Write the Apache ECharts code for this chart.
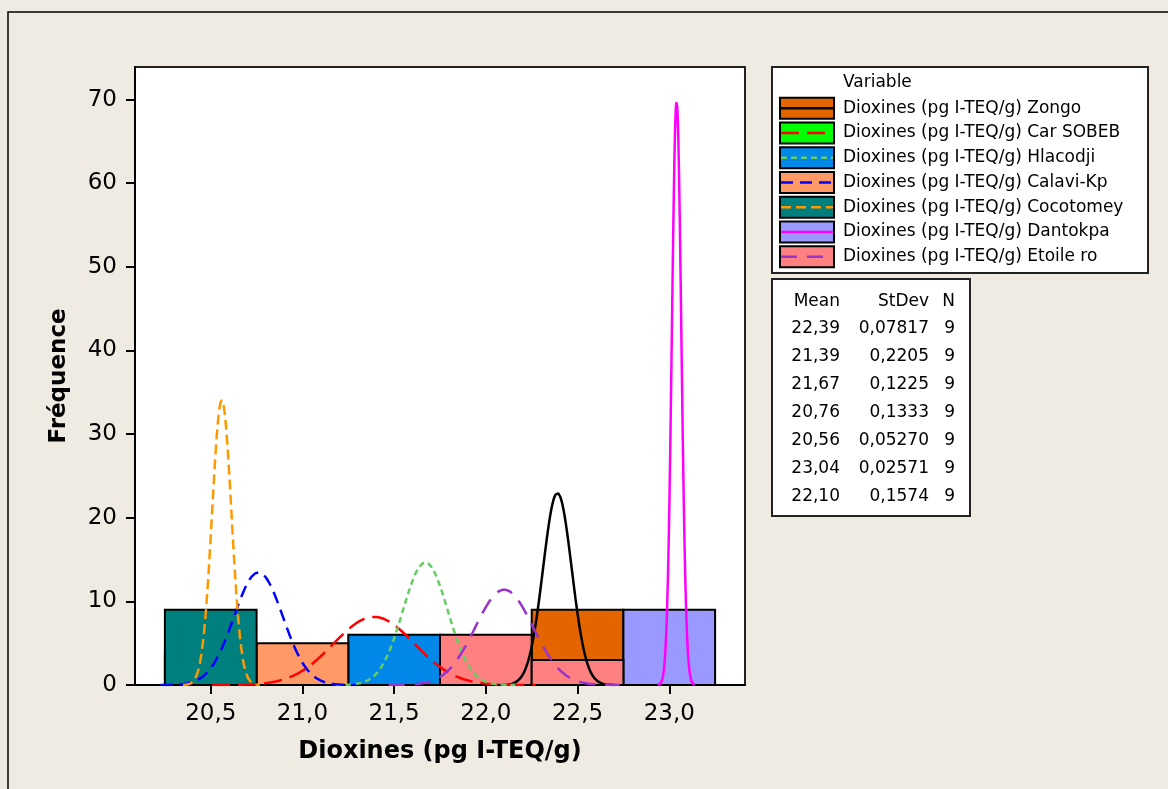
<!DOCTYPE html>
<html>
<head>
<meta charset="utf-8">
<style>
  html, body { margin: 0; padding: 0; background: #EFEBE2; }
  #chart { width: 1168px; height: 789px; }
</style>
<script src="https://cdn.jsdelivr.net/npm/echarts@6/dist/echarts.min.js"></script>
</head>
<body>
<div id="chart"></div>
<script>
// variables, in legend order
var names = ['Zongo', 'Car SOBEB', 'Hlacodji', 'Calavi-Kp', 'Cocotomey', 'Dantokpa', 'Etoile ro'];
var means = [22.39, 21.39, 21.67, 20.76, 20.56, 23.04, 22.10];
var stdevs = [0.07817, 0.2205, 0.1225, 0.1333, 0.05270, 0.02571, 0.1574];
var counts = [9, 9, 9, 9, 9, 9, 9];

// histogram bins (midpoints, width 0.5) and counts per variable
var binMids = [20.5, 21.0, 21.5, 22.0, 22.5, 23.0];
var binZongo = [0, 0, 0, 0, 9, 0];
var binCarSobeb = [0, 4, 5, 0, 0, 0];
var binHlacodji = [0, 0, 6, 3, 0, 0];
var binCalavi = [4, 5, 0, 0, 0, 0];
var binCocotomey = [9, 0, 0, 0, 0, 0];
var binDantokpa = [0, 0, 0, 0, 0, 9];
var binEtoile = [0, 0, 0, 6, 3, 0];
var binWidth = 0.5;

// tick labels
var xTicks = [20.5, 21.0, 21.5, 22.0, 22.5, 23.0];
var yTicks = [0, 10, 20, 30, 40, 50, 60, 70];

var binCounts = [binZongo, binCarSobeb, binHlacodji, binCalavi, binCocotomey, binDantokpa, binEtoile];
var fillColors = ['#E46400', '#00FF00', '#0088E8', '#FF9966', '#007F7F', '#9999FF', '#FF8080'];
var lineColors = ['#000000', '#FF0000', '#66CC66', '#0000FF', '#FF9900', '#FF00FF', '#9933CC'];
var lineDashes = [null, [18, 8], [6, 4], [12, 7], [10, 5], null, [16, 10]];

var FONT = 'DejaVu Sans';
var chart = echarts.init(document.getElementById('chart'));

function comma(v, d) { return v.toFixed(d).replace('.', ','); }

var series = [];
// histogram bars
names.forEach(function (n, i) {
    series.push({
        name: n,
        type: 'custom',
        z: 2,
        data: binMids.map(function (m, k) { return [m, binCounts[i][k]]; }),
        renderItem: function (params, api) {
            var h = api.value(1);
            if (!h) return;
            var p0 = api.coord([api.value(0) - binWidth / 2, h]);
            var p1 = api.coord([api.value(0) + binWidth / 2, 0]);
            return {
                type: 'rect',
                shape: { x: p0[0], y: p0[1], width: p1[0] - p0[0], height: p1[1] - p0[1] },
                style: { fill: fillColors[i], stroke: '#000', lineWidth: 2 }
            };
        }
    });
});
// fitted normal curves from the Mean / StDev / N table
names.forEach(function (n, i) {
    var pts = [];
    for (var k = 0; k <= 120; k++) {
        var x = means[i] - 4 * stdevs[i] + k * 8 * stdevs[i] / 120;
        var z = (x - means[i]) / stdevs[i];
        pts.push([x, counts[i] * binWidth * Math.exp(-z * z / 2) / (stdevs[i] * Math.sqrt(2 * Math.PI))]);
    }
    series.push({
        name: n + ' fit',
        type: 'line',
        z: 3,
        showSymbol: false,
        data: pts,
        lineStyle: { color: lineColors[i], width: 2.5, type: lineDashes[i] || 'solid' }
    });
});

// legend and stats table (Minitab style)
var graphic = [
    { type: 'rect', z: -10, shape: { x: 8, y: 12, width: 1200, height: 800 }, style: { fill: 'none', stroke: '#000', lineWidth: 1.5 } },
    { type: 'rect', shape: { x: 772, y: 67, width: 376, height: 206 }, style: { fill: '#fff', stroke: '#222', lineWidth: 2 } },
    { type: 'text', style: { text: 'Variable', x: 843, y: 83, fill: '#000', font: '17px "' + FONT + '"', textVerticalAlign: 'middle' } },
    { type: 'rect', shape: { x: 772, y: 279, width: 198, height: 237 }, style: { fill: '#fff', stroke: '#222', lineWidth: 2 } },
    { type: 'text', style: { text: 'Mean', x: 840, y: 301.5, fill: '#000', font: '17px "' + FONT + '"', textAlign: 'right', textVerticalAlign: 'middle' } },
    { type: 'text', style: { text: 'StDev', x: 929, y: 301.5, fill: '#000', font: '17px "' + FONT + '"', textAlign: 'right', textVerticalAlign: 'middle' } },
    { type: 'text', style: { text: 'N', x: 955, y: 301.5, fill: '#000', font: '17px "' + FONT + '"', textAlign: 'right', textVerticalAlign: 'middle' } }
];
names.forEach(function (n, i) {
    var ry = 108.3 + i * 24.73;
    graphic.push({ type: 'rect', shape: { x: 780, y: ry - 10.5, width: 54, height: 21 }, style: { fill: fillColors[i], stroke: '#000', lineWidth: 2 } });
    graphic.push({ type: 'line', shape: { x1: 781, y1: ry, x2: 833, y2: ry }, style: { stroke: lineColors[i], lineWidth: 2.5, lineDash: lineDashes[i] || null } });
    graphic.push({ type: 'text', style: { text: 'Dioxines (pg I-TEQ/g) ' + n, x: 843, y: ry, fill: '#000', font: '17px "' + FONT + '"', textVerticalAlign: 'middle' } });

    var sy = 328.3 + i * 28.1;
    graphic.push({ type: 'text', style: { text: comma(means[i], 2), x: 840, y: sy, fill: '#000', font: '17px "' + FONT + '"', textAlign: 'right', textVerticalAlign: 'middle' } });
    graphic.push({ type: 'text', style: { text: stdevs[i].toPrecision(4).replace('.', ','), x: 929, y: sy, fill: '#000', font: '17px "' + FONT + '"', textAlign: 'right', textVerticalAlign: 'middle' } });
    graphic.push({ type: 'text', style: { text: String(counts[i]), x: 955, y: sy, fill: '#000', font: '17px "' + FONT + '"', textAlign: 'right', textVerticalAlign: 'middle' } });
});

chart.setOption({
    backgroundColor: '#EFEBE2',
    animation: false,
    textStyle: { fontFamily: FONT },
    grid: {
        left: 135, top: 67, width: 610, height: 618,
        show: true, backgroundColor: '#fff', borderColor: '#222', borderWidth: 2
    },
    xAxis: {
        type: 'value',
        min: 20.087,
        max: 23.413,
        name: 'Dioxines (pg I-TEQ/g)',
        nameLocation: 'middle',
        nameGap: 55,
        nameTextStyle: { fontFamily: FONT, fontWeight: 'bold', fontSize: 24, color: '#000' },
        axisLine: { lineStyle: { color: '#000', width: 2 } },
        axisTick: { customValues: xTicks, length: 9, lineStyle: { color: '#000', width: 2 } },
        axisLabel: {
            customValues: xTicks, margin: 18, fontSize: 23, color: '#000', fontFamily: FONT,
            formatter: function (v) { return comma(v, 1); }
        },
        splitLine: { show: false }
    },
    yAxis: {
        type: 'value',
        min: 0,
        max: 73.9,
        name: 'Fréquence',
        nameLocation: 'middle',
        nameGap: 64,
        nameTextStyle: { fontFamily: FONT, fontWeight: 'bold', fontSize: 23, color: '#000' },
        axisLine: { show: true, lineStyle: { color: '#000', width: 2 } },
        axisTick: { show: true, customValues: yTicks, length: 9, lineStyle: { color: '#000', width: 2 } },
        axisLabel: { customValues: yTicks, margin: 18, fontSize: 23, color: '#000', fontFamily: FONT },
        splitLine: { show: false }
    },
    graphic: graphic,
    series: series
});
</script>
</body>
</html>
